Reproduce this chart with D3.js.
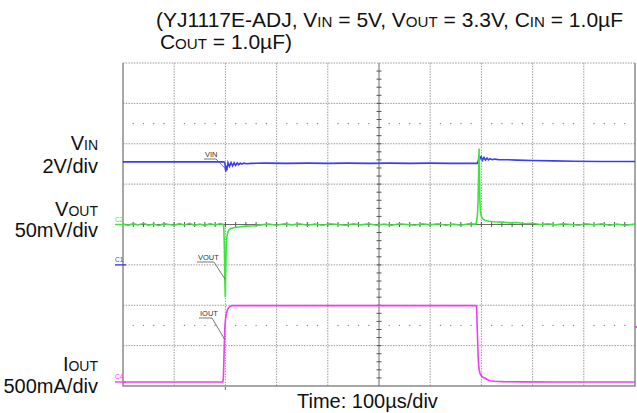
<!DOCTYPE html>
<html><head><meta charset="utf-8">
<script src="https://cdn.jsdelivr.net/npm/d3@7"></script>
<style>
body{margin:0;background:#fff}
svg{display:block}
text{font-family:"Liberation Sans",Arial,sans-serif}
</style>
</head><body>
<svg id="c" width="637" height="413"></svg>
<script>
const timeDomainUs = [0, 1000];          // 10 div x 100 us
const timeDivisions = 10;
const voltDivisions = 8;

// VIN trace [time us, volts], 2 V/div
const vinPoints = [
  [0,5.10],[30,5.11],[60,5.10],[90,5.11],[120,5.10],[150,5.11],[180,5.10],[197,5.10],
  [199,5.05],[200,4.78],[200.8,4.62],[202,4.90],[203.5,4.80],[205,5.06],[208,4.88],[211,5.07],
  [214,4.90],[217,5.06],[220,4.93],[223,5.05],[226,4.96],[229,5.04],[232,4.99],[236,5.04],
  [242,5.01],[250,5.03],[280,5.04],[320,5.03],[360,5.04],[400,5.03],[440,5.04],[480,5.03],
  [520,5.04],[560,5.03],[600,5.04],[640,5.03],[680,5.03],[692,5.03],
  [694,5.15],[695.5,5.44],[697,5.24],[699.5,5.36],[702,5.18],[705,5.32],[708,5.19],[711,5.29],
  [714,5.20],[717,5.26],[721,5.21],[726,5.24],[735,5.21],[750,5.21],[770,5.19],[800,5.17],
  [840,5.15],[880,5.13],[930,5.12],[970,5.12],[1000,5.12]
];

// VOUT trace [time us, mV deviation], 50 mV/div
const voutPoints = [
  [0,0.5],[10,-1],[20,1],[30,-0.5],[40,1.5],[50,-1],[60,0.5],[70,-1.5],[80,1],[90,0],
  [100,-1],[110,1],[120,-0.5],[130,1.5],[140,-1],[150,0.5],[160,-1],[170,1],[180,-0.5],[190,1],[196,0],
  [197,-5],[198,-30],[199,-70],[199.8,-90],[200.6,-60],[201.5,-32],[202.5,-18],[204,-11],
  [206.5,-7],[210,-5],[216,-4],[225,-3],[240,-2],[255,-1.5],[270,-0.5],
  [285,0.5],[300,-1],[315,1],[330,-0.5],[345,1],[360,-1],[375,0.5],[390,-1],[405,1],[420,0],
  [435,-1],[450,1],[465,-0.5],[480,1],[495,-1],[510,0.5],[525,-1],[540,1],[555,0],[570,-1],
  [585,1],[600,-0.5],[615,1],[630,-1],[645,0.5],[660,-1],[675,1],[689,0.5],
  [690.5,3],[691.5,8],[692.5,14],[693.5,30],[694.5,60],[695.5,94],[696.3,60],[697,30],
  [698,16],[700,10],[703,6.5],[708,5],[715,4],[725,3.5],[740,3],[755,2],[770,2.5],[785,1],
  [800,1.5],[815,0],[830,1],[845,-0.5],[860,1],[875,0],[890,-1],[905,1],[920,-0.5],[935,1],
  [950,-1],[965,0.5],[980,-1],[1000,0.5]
];

// IOUT trace [time us, mA], 500 mA/div
const ioutPoints = [
  [0,0],[100,0],[195,0],[196,40],[197,250],[198,500],[199,680],[200.5,790],[202,850],
  [204,895],[206.5,920],[209,935],[213,945],[400,945],[600,945],[689,945],[690.5,940],
  [692,640],[693.6,314],[695,180],[697,108],[700,75],[703,58],[707,46],[712,28],[717,16],
  [725,9],[742,4],[780,1],[850,0],[1000,0]
];

// channel ground / reference positions (divisions from top) and scale per division
const channelNames = ["VIN", "VOUT", "IOUT"];
const channelRefDiv = [5, 4, 7.9];
const channelPerDiv = [2, 50, 500];

// text
const titleLine1 = [["(YJ1117E-ADJ, V",false],["IN",true],[" = 5V, V",false],["OUT",true],[" = 3.3V, C",false],["IN",true],[" = 1.0µF",false]];
const titleLine2 = [["C",false],["OUT",true],[" = 1.0µF)",false]];
const sideLabels = [
  {main:"V", sub:"IN", scale:"2V/div"},
  {main:"V", sub:"OUT", scale:"50mV/div"},
  {main:"I", sub:"OUT", scale:"500mA/div"}
];
const timeLabel = "Time: 100µs/div";

// ---------- drawing ----------
const svg = d3.select("#c");
const L = 123, R = 635, T = 63, B = 386;
const x = d3.scaleLinear().domain(timeDomainUs).range([L, R]);
const yDiv = d3.scaleLinear().domain([0, voltDivisions]).range([T, B]);
const xDiv = d3.scaleLinear().domain([0, timeDivisions]).range([L, R]);

function chScale(i){
  return d3.scaleLinear().domain([0, channelPerDiv[i]])
    .range([yDiv(channelRefDiv[i]), yDiv(channelRefDiv[i]-1)]);
}
const yVin = chScale(0), yVout = chScale(1), yIout = chScale(2);

const g = svg.append("g");

// dotted grid
const gridCol = "#9a9a9a";
d3.range(1, timeDivisions).filter(d => d !== 5).forEach(d => {
  g.append("line").attr("x1", xDiv(d)).attr("x2", xDiv(d)).attr("y1", T).attr("y2", B)
   .attr("stroke", gridCol).attr("stroke-width", 1).attr("stroke-dasharray", "1.5,1.2");
});
d3.range(1, voltDivisions).filter(d => d !== 4).forEach(d => {
  g.append("line").attr("x1", L).attr("x2", R).attr("y1", yDiv(d)).attr("y2", yDiv(d))
   .attr("stroke", gridCol).attr("stroke-width", 1).attr("stroke-dasharray", "1.5,1.2");
});
g.append("line").attr("x1", L).attr("x2", R).attr("y1", T).attr("y2", T)
  .attr("stroke", gridCol).attr("stroke-dasharray", "1.5,1.2");
g.append("path").attr("d", `M${L},${T}V${B}H${R}V${T}`).attr("fill","none")
  .attr("stroke", "#8a8a8a").attr("stroke-width", 1.5);

// dotted rows
[1.5, 6.5].forEach(r => {
  d3.range(0, timeDivisions*5 + 1).filter(k => k % 5 !== 0).forEach(k => {
    g.append("rect").attr("x", xDiv(k/5) - 0.6).attr("y", yDiv(r) - 0.6)
      .attr("width", 1.2).attr("height", 1.2).attr("fill", "#8a8a8a");
  });
});

// center cross with minor ticks
const cx = xDiv(5), cy = yDiv(4);
g.append("line").attr("x1", cx).attr("x2", cx).attr("y1", T).attr("y2", B).attr("stroke", "#6a6a6a").attr("stroke-width", 1);
g.append("line").attr("x1", L).attr("x2", R).attr("y1", cy).attr("y2", cy).attr("stroke", "#6a6a6a").attr("stroke-width", 1);
d3.range(1, voltDivisions*5).forEach(k => {
  g.append("line").attr("x1", cx - 2.5).attr("x2", cx + 2.5).attr("y1", yDiv(k/5)).attr("y2", yDiv(k/5))
    .attr("stroke", "#555").attr("stroke-width", 1);
});
d3.range(1, timeDivisions*5).forEach(k => {
  g.append("line").attr("x1", xDiv(k/5)).attr("x2", xDiv(k/5)).attr("y1", cy - 2.5).attr("y2", cy + 2.5)
    .attr("stroke", "#555").attr("stroke-width", 1);
});

// traces
const colVin = "#3c3cf8", colVout = "#3ee43e", colIout = "#f23cf2";
const line = ys => d3.line().x(d => x(d[0])).y(d => ys(d[1]));
g.append("path").datum(vinPoints).attr("d", line(yVin)).attr("fill","none").attr("stroke", colVin).attr("stroke-width", 1.6);
g.append("path").datum(ioutPoints).attr("d", line(yIout)).attr("fill","none").attr("stroke", colIout).attr("stroke-width", 1.6);
g.append("path").datum(voutPoints).attr("d", line(yVout)).attr("fill","none").attr("stroke", colVout).attr("stroke-width", 1.6);

// channel markers on the left edge
const markers = [
  {name:"C2", col: colVout, y: yVout(0)},
  {name:"C1", col: colVin, y: yVin(0)},
  {name:"C4", col: colIout, y: yIout(0)}
];
markers.forEach(m => {
  g.append("line").attr("x1", L - 8).attr("x2", L + 3).attr("y1", m.y).attr("y2", m.y)
    .attr("stroke", m.col).attr("stroke-width", 1.4);
  g.append("text").attr("x", L - 8).attr("y", m.y - 2.5).attr("font-size", 6.5)
    .attr("fill", m.col).text(m.name);
});
g.append("rect").attr("x", R).attr("y", yIout(680) - 1).attr("width", 2).attr("height", 2).attr("fill", colIout);
g.append("line").attr("x1", x(200)).attr("x2", x(200)).attr("y1", B + 1).attr("y2", B + 4)
  .attr("stroke", colIout).attr("stroke-width", 1.2);

// in-plot callouts
const callouts = [
  {txt:"VIN",  tx: 205, ty: 157, ulEnd: 216, tip:[x(200.5), yVin(4.75)]},
  {txt:"VOUT", tx: 198, ty: 260, ulEnd: 214, tip:[x(199.5), yVout(-68)]},
  {txt:"IOUT", tx: 200, ty: 316, ulEnd: 212, tip:[x(198.3), yIout(530)]}
];
callouts.forEach(c => {
  g.append("text").attr("x", c.tx).attr("y", c.ty).attr("font-size", 7.5).attr("fill", "#333").text(c.txt);
  g.append("path").attr("d", `M${c.tx - 1},${c.ty + 2}H${c.ulEnd}L${c.tip[0]},${c.tip[1]}`)
    .attr("fill","none").attr("stroke", "#555").attr("stroke-width", 0.8);
});

// title
const fs = 20, tfs = 21;
function addRich(parts, xPos, yPos, anchor, size, subRatio){
  const t = svg.append("text").attr("x", xPos).attr("y", yPos).attr("font-size", size)
    .attr("fill", "#111").attr("text-anchor", anchor || "start");
  parts.forEach(p => {
    t.append("tspan").attr("font-size", p[1] ? size*subRatio : size).text(p[0]);
  });
  return t;
}
const t1 = addRich(titleLine1, 0, 27, "start", tfs, 0.72);
const w1 = t1.node().getComputedTextLength();
const tx0 = 623 - w1;
t1.attr("x", tx0);
addRich(titleLine2, tx0 + 4, 49, "start", tfs, 0.72);

// side labels
const sideY = [[150, 173], [216, 237], [371, 393]];
sideLabels.forEach((s, i) => {
  addRich([[s.main,false],[s.sub,true]], 98, sideY[i][0], "end", fs, 0.7);
  svg.append("text").attr("x", 98).attr("y", sideY[i][1]).attr("font-size", fs)
    .attr("text-anchor", "end").attr("fill", "#111").text(s.scale);
});

// time label
svg.append("text").attr("x", 297).attr("y", 408).attr("font-size", fs).attr("fill", "#111").text(timeLabel);
</script>
</body></html>
